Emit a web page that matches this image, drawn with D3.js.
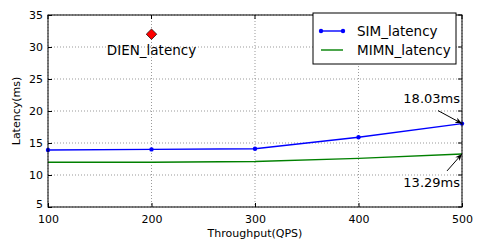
<!DOCTYPE html>
<html>
<head>
<meta charset="utf-8">
<script src="https://cdn.jsdelivr.net/npm/d3@7"></script>
<style>
  body { margin: 0; background: #fff; }
  text { font-family: "DejaVu Sans", sans-serif; }
</style>
</head>
<body>
<div id="chart-area"></div>
<script>
// data
var qps = [100, 200, 300, 400, 500];
var simLatency = [13.9, 14.0, 14.1, 15.9, 18.03];
var mimnLatency = [12.0, 12.0, 12.1, 12.6, 13.29];
var dienPoint = { qps: 200, latency: 32 };
var xTicks = [100, 200, 300, 400, 500];
var yTicks = [5, 10, 15, 20, 25, 30, 35];

var margin = { left: 48, right: 23, top: 15, bottom: 42 };
var width = 485 - margin.left - margin.right;
var height = 249 - margin.top - margin.bottom;

var svg = d3.select("#chart-area").append("svg")
  .attr("width", 485)
  .attr("height", 249);

var g = svg.append("g")
  .attr("transform", "translate(" + margin.left + "," + margin.top + ")");

var x = d3.scaleLinear().domain([100, 500]).range([0, width]);
var y = d3.scaleLinear().domain([5, 35]).range([height, 0]);

// grid
g.selectAll(".vgrid").data(xTicks).enter().append("line")
  .attr("x1", function(d) { return x(d); })
  .attr("x2", function(d) { return x(d); })
  .attr("y1", 0).attr("y2", height)
  .attr("stroke", "#555").attr("stroke-width", 0.6)
  .attr("stroke-dasharray", "1,2");
g.selectAll(".hgrid").data(yTicks).enter().append("line")
  .attr("y1", function(d) { return y(d); })
  .attr("y2", function(d) { return y(d); })
  .attr("x1", 0).attr("x2", width)
  .attr("stroke", "#555").attr("stroke-width", 0.6)
  .attr("stroke-dasharray", "1,2");

// axes (ticks inward)
var xAxisCall = d3.axisBottom(x).tickValues(xTicks).tickSizeInner(-4).tickSizeOuter(0).tickPadding(8);
var yAxisCall = d3.axisLeft(y).tickValues(yTicks).tickSizeInner(-4).tickSizeOuter(0).tickPadding(5);

var xAxisGroup = g.append("g")
  .attr("transform", "translate(0," + height + ")")
  .call(xAxisCall);
var yAxisGroup = g.append("g").call(yAxisCall);

[xAxisGroup, yAxisGroup].forEach(function(ax) {
  ax.select(".domain").remove();
  ax.selectAll("text").attr("font-size", "11px").attr("fill", "#000")
    .style("font-family", "DejaVu Sans, sans-serif");
  ax.selectAll("line").attr("stroke", "#000");
});
yAxisGroup.selectAll("text")
  .attr("dy", function(d) { return d === 5 ? "0.05em" : "0.3em"; });

// top/right ticks
g.selectAll(".tt").data(xTicks).enter().append("line")
  .attr("x1", function(d) { return x(d); }).attr("x2", function(d) { return x(d); })
  .attr("y1", 0).attr("y2", 4).attr("stroke", "#000");
g.selectAll(".rt").data(yTicks).enter().append("line")
  .attr("y1", function(d) { return y(d); }).attr("y2", function(d) { return y(d); })
  .attr("x1", width).attr("x2", width - 4).attr("stroke", "#000");

// lines
var line = d3.line()
  .x(function(d, i) { return x(qps[i]); })
  .y(function(d) { return y(d); });

g.append("path").datum(mimnLatency)
  .attr("d", line).attr("fill", "none")
  .attr("stroke", "#008000").attr("stroke-width", 1.4);

g.append("path").datum(simLatency)
  .attr("d", line).attr("fill", "none")
  .attr("stroke", "#0000ff").attr("stroke-width", 1.4);

g.selectAll(".simdot").data(simLatency).enter().append("circle")
  .attr("cx", function(d, i) { return x(qps[i]); })
  .attr("cy", function(d) { return y(d); })
  .attr("r", 2.2).attr("fill", "#0000ff");

// DIEN point
g.append("path")
  .attr("d", d3.symbol().type(d3.symbolDiamond2).size(70)())
  .attr("transform", "translate(" + x(dienPoint.qps) + "," + y(dienPoint.latency) + ")")
  .attr("fill", "#ff0000").attr("stroke", "#000").attr("stroke-width", 0.7);

g.append("text")
  .attr("x", x(dienPoint.qps)).attr("y", y(dienPoint.latency) + 21)
  .attr("text-anchor", "middle").attr("font-size", "13.5px")
  .text("DIEN_latency");

// frame
g.append("rect").attr("width", width).attr("height", height)
  .attr("fill", "none").attr("stroke", "#000").attr("stroke-width", 1);

// annotations
var last = qps.length - 1;
svg.append("defs").append("marker")
  .attr("id", "arr").attr("viewBox", "0 0 10 10")
  .attr("refX", 10).attr("refY", 5)
  .attr("markerWidth", 7).attr("markerHeight", 7)
  .attr("orient", "auto-start-reverse")
  .append("path").attr("d", "M0,1 L10,5 L0,9 L3,5 Z").attr("fill", "#000");

function annotate(value, tx, ty, ax, ay, label) {
  g.append("line")
    .attr("x1", ax).attr("y1", ay)
    .attr("x2", x(qps[last])).attr("y2", y(value))
    .attr("stroke", "#000").attr("stroke-width", 1)
    .attr("marker-end", "url(#arr)");
  g.append("text")
    .attr("x", tx).attr("y", ty)
    .attr("text-anchor", "end").attr("font-size", "13px")
    .text(label);
}
annotate(simLatency[last], width - 2, y(simLatency[last]) - 21, width - 24, y(simLatency[last]) - 13, "18.03ms");
annotate(mimnLatency[last], width - 2, y(mimnLatency[last]) + 33, width - 15, y(mimnLatency[last]) + 17, "13.29ms");

// legend
var legend = g.append("g").attr("transform", "translate(" + (width - 149) + ",-2)");
legend.append("rect").attr("width", 143).attr("height", 51)
  .attr("fill", "#fff").attr("stroke", "#000").attr("stroke-width", 1);
var items = [
  { name: "SIM_latency", color: "#0000ff", dots: true },
  { name: "MIMN_latency", color: "#008000", dots: false }
];
items.forEach(function(d, i) {
  var yy = 18 + i * 19;
  legend.append("line").attr("x1", 8).attr("x2", 30).attr("y1", yy).attr("y2", yy)
    .attr("stroke", d.color).attr("stroke-width", 1.4);
  if (d.dots) {
    [8, 30].forEach(function(cx) {
      legend.append("circle").attr("cx", cx).attr("cy", yy).attr("r", 2.2).attr("fill", d.color);
    });
  }
  legend.append("text").attr("x", 44).attr("y", yy).attr("dy", "0.35em")
    .attr("font-size", "13.5px").text(d.name);
});

// axis labels
g.append("text")
  .attr("x", width / 2).attr("y", height + 30)
  .attr("text-anchor", "middle").attr("font-size", "11px")
  .text("Throughput(QPS)");
g.append("text")
  .attr("transform", "rotate(-90)")
  .attr("x", -height / 2).attr("y", -28)
  .attr("text-anchor", "middle").attr("font-size", "11px")
  .text("Latency(ms)");
</script>
</body>
</html>
